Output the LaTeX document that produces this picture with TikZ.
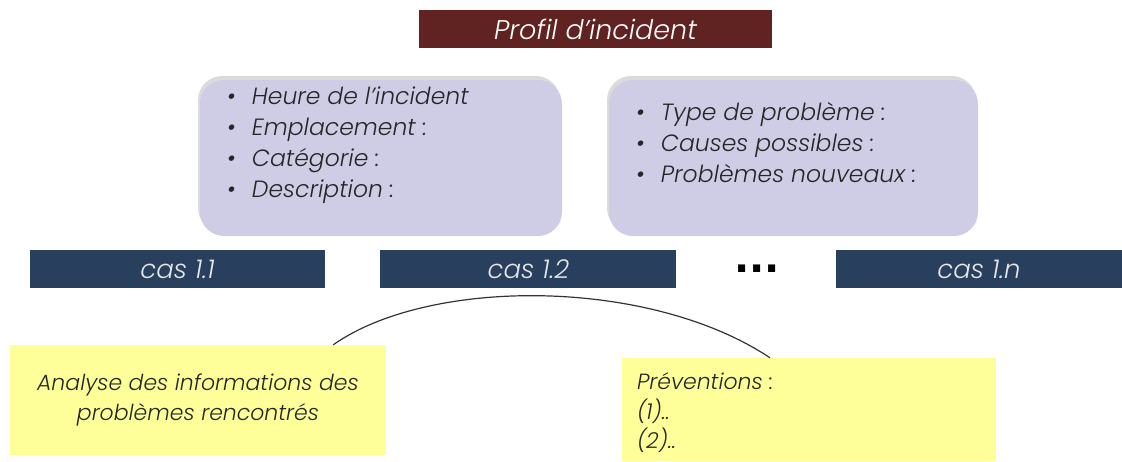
\documentclass[tikz,border=0pt]{standalone}
\usepackage{fontspec}
\setmainfont{Poppins}[UprightFont=* Light, ItalicFont=* Light Italic]
\newfontfamily\dotsfont{DejaVu Sans}
\usepackage{tikz}
\usetikzlibrary{positioning, shadows, calc}
\definecolor{incidentred}{HTML}{612222}
\definecolor{infolilac}{HTML}{CFCCE6}
\definecolor{infoink}{HTML}{262626}
\definecolor{casblue}{HTML}{283F5E}
\definecolor{casink}{HTML}{E6E6E6}
\definecolor{noteyellow}{HTML}{FFFF99}

\begin{document}
\begin{tikzpicture}[x=1pt, y=-1pt,
        titlebox/.style={fill=incidentred, text=white, minimum width=353pt, minimum height=38pt, inner sep=0pt, font=\fontsize{27}{30}\selectfont\itshape},
        infobox/.style={fill=infolilac, rounded corners=24pt, minimum height=156pt, inner sep=0pt, drop shadow={shadow xshift=-2pt, shadow yshift=4pt, opacity=.2, fill=black!70}},
        listtext/.style={text=infoink, align=left, inner sep=0pt, anchor=north west, font=\fontsize{23.5}{31}\selectfont\itshape},
        casbar/.style={fill=casblue, text=casink, minimum height=38pt, inner sep=0pt, font=\fontsize{26}{28}\selectfont\itshape},
        notebox/.style={fill=noteyellow, text=infoink, inner sep=0pt, font=\fontsize{22}{29.5}\selectfont\itshape},
        arc/.style={draw=black!80, line width=1.2pt}
    ]
        \useasboundingbox (0,0) rectangle (1122,461);

        \node (profil) [titlebox] at (595.5,29) {Profil d'incident};

        \node (infoleft) [infobox, minimum width=362pt] at (381,158) {};
        \node (inforight) [infobox, minimum width=369pt] at (793.5,158) {};
        \node (listleft) [listtext] at ([shift={(27,7)}]infoleft.north west)
            {\makebox[25pt][l]{\textbullet}Heure de l'incident\\
             \makebox[25pt][l]{\textbullet}Emplacement :\\
             \makebox[25pt][l]{\textbullet}Catégorie :\\
             \makebox[25pt][l]{\textbullet}Description :};
        \node (listright) [listtext] at ([shift={(27,22)}]inforight.north west)
            {\makebox[25pt][l]{\textbullet}Type de problème :\\
             \makebox[25pt][l]{\textbullet}Causes possibles :\\
             \makebox[25pt][l]{\textbullet}Problèmes nouveaux :};

        \node (cas1) [casbar, minimum width=295pt] at (177.5,269) {cas 1.1};
        \node (cas2) [casbar, minimum width=296pt, right=55pt of cas1] {cas 1.2};
        \node (casn) [casbar, minimum width=286pt] at (979,269) {cas 1.n};
        \node (dots) [font=\dotsfont\bfseries\fontsize{40}{40}\selectfont, inner sep=0pt] at (757,269) {...};

        \node (analyse) [notebox, minimum width=376pt, minimum height=110pt, align=center] at (198,400)
            {Analyse des informations des\\problèmes rencontrés};
        \node (prevent) [notebox, minimum width=374pt, minimum height=103pt] at (809,409.5) {};
        \node (preventtext) [notebox, fill=none, align=left, anchor=north west] at ([shift={(15,15)}]prevent.north west)
            {Préventions :\\(1)..\\(2)..};

        \draw [arc] ([xshift=-53pt]analyse.north east) .. controls +(97,-68) and +(-120,-80) .. ([xshift=-39pt]prevent.north);
    \end{tikzpicture}
\end{document}
